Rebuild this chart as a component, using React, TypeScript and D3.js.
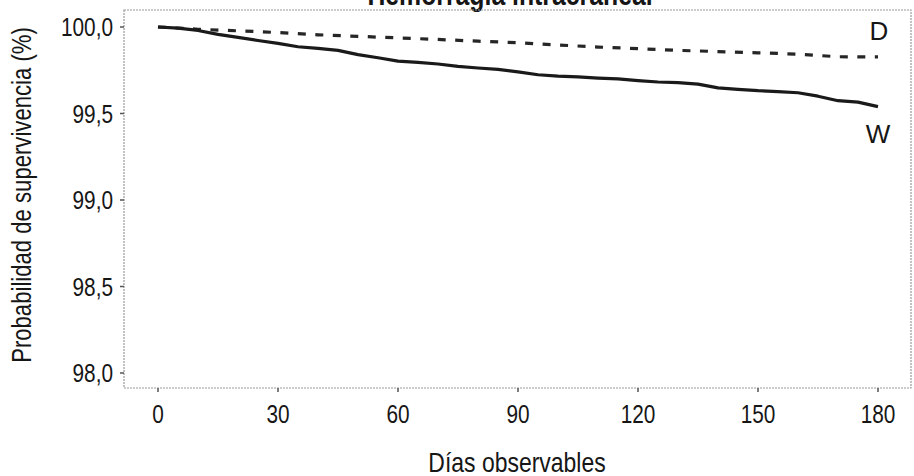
import React from "react";
import * as d3 from "d3";

const daysW = [0,5,10,15,20,25,30,35,40,45,50,55,60,65,70,75,80,85,90,95,100,105,110,115,120,125,130,135,140,145,150,155,160,165,170,175,180];
const survW = [100.000,99.993,99.980,99.957,99.940,99.922,99.905,99.886,99.876,99.865,99.840,99.822,99.803,99.795,99.786,99.772,99.763,99.755,99.741,99.724,99.716,99.712,99.705,99.700,99.690,99.682,99.678,99.670,99.648,99.640,99.632,99.627,99.620,99.600,99.574,99.566,99.540];
const daysD = [0,10,20,30,40,50,60,70,80,90,100,110,120,130,140,150,160,170,180];
const survD = [100.000,99.987,99.978,99.968,99.955,99.946,99.937,99.928,99.918,99.909,99.896,99.884,99.875,99.865,99.858,99.851,99.843,99.828,99.827];
const xTicks = [0,30,60,90,120,150,180];
const yTicks = [98.0,98.5,99.0,99.5,100.0];
const title = "Hemorragia intracraneal";
const xTitle = "Días observables";
const yTitle = "Probabilidad de supervivencia (%)";
const seriesLabels = ["D","W"];

const W = 914, H = 476;
const left = 124, right = 911, top = 10, bottom = 388;
const font = "'Liberation Sans',Arial,sans-serif";

function CText(props: { x: number; y: number; anchor: string; size: number; sx?: number; rotate?: number; bold?: boolean; children: React.ReactNode }) {
  const { x, y, anchor, size, rotate, bold, children } = props;
  const sx = props.sx ?? 0.8;
  const tr = `translate(${x},${y})${rotate ? ` rotate(${rotate})` : ""} scale(${sx},1)`;
  return (
    <text transform={tr} textAnchor={anchor} fontFamily={font} fontSize={size} fontWeight={bold ? "bold" : "normal"} fill="#161616">{children}</text>
  );
}

export default function App() {
  const x = d3.scaleLinear().domain([0, 180]).range([158, 878]);
  const y = d3.scaleLinear().domain([98, 100]).range([373, 27]);
  const line = d3.line<[number, number]>().x(d => x(d[0])).y(d => y(d[1]));
  const wPts = daysW.map((d, i) => [d, survW[i]] as [number, number]);
  const dPts = daysD.map((d, i) => [d, survD[i]] as [number, number]);
  const fmt = (v: number) => v.toFixed(1).replace(".", ",");
  return (
    <svg width={W} height={H} style={{ position: "absolute", left: 0, top: 0, background: "#fff" }}>
      <CText x={510} y={5} anchor="middle" size={31} bold>{title}</CText>
      <rect x={left} y={top} width={right - left} height={bottom - top} fill="none" stroke="#9a9a9a" strokeWidth={1.2} strokeDasharray="2,1" />
      {yTicks.map(t => (
        <g key={t}>
          <line x1={left - 4} x2={left} y1={y(t)} y2={y(t)} stroke="#555" strokeWidth={1.5} />
          <CText x={left - 11} y={y(t) + 9} anchor="end" size={26}>{fmt(t)}</CText>
        </g>
      ))}
      {xTicks.map(t => (
        <g key={t}>
          <line x1={x(t)} x2={x(t)} y1={bottom} y2={bottom + 4} stroke="#555" strokeWidth={1.5} />
          <CText x={x(t)} y={423} anchor="middle" size={26}>{t}</CText>
        </g>
      ))}
      <CText x={517} y={472} anchor="middle" size={28} sx={0.82}>{xTitle}</CText>
      <CText x={31} y={195} rotate={-90} anchor="middle" size={27} sx={0.82}>{yTitle}</CText>
      <path d={line(dPts) || ""} fill="none" stroke="#262626" strokeWidth={3.2} strokeDasharray="8,9.5" />
      <path d={line(wPts) || ""} fill="none" stroke="#1a1a1a" strokeWidth={3.2} strokeLinejoin="round" />
      <text x={879} y={40} textAnchor="middle" fontFamily={font} fontSize={26} fill="#161616">{seriesLabels[0]}</text>
      <text x={878} y={143} textAnchor="middle" fontFamily={font} fontSize={26} fill="#161616">{seriesLabels[1]}</text>
    </svg>
  );
}
